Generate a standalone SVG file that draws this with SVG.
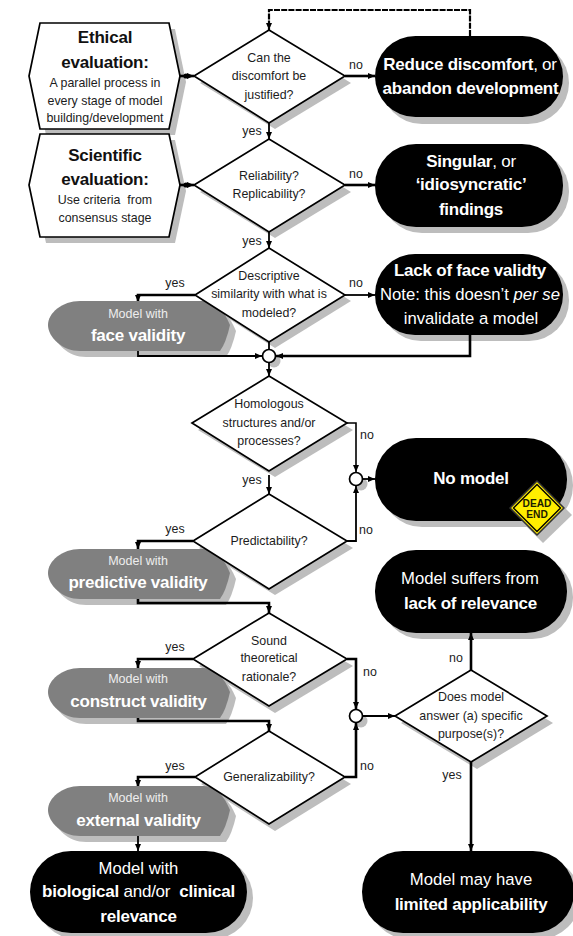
<svg xmlns="http://www.w3.org/2000/svg" width="573" height="936" viewBox="0 0 573 936">
<style>
text{font-family:"Liberation Sans",Arial,sans-serif;text-anchor:middle}
.s{font-size:12.4px;fill:#1c1c1c}
.l{font-size:12.4px;fill:#1c1c1c}
.h{font-size:17px;font-weight:bold;fill:#111;letter-spacing:-.2px}
.w{font-size:17px;font-weight:bold;fill:#fff;letter-spacing:-.24px}
.wn{font-size:16.7px;fill:#fff}
.ws{font-size:12.5px;fill:#eee}
.sh{fill:#bdbdbd}
.d{fill:#fff;stroke:#000;stroke-width:1.7;stroke-linejoin:miter}
.b{fill:#000}
.g{fill:#808080}
.c{fill:#fff;stroke:#000;stroke-width:1.7}
#connectors path{fill:none;stroke:#000;stroke-width:1.8}
#connectors path.t{stroke-width:2.6}
#connectors path.n{stroke-width:1.6}
#connectors path.da{stroke-dasharray:6 1.2;stroke-width:2.2}
</style>
<defs>
<marker id="a" markerUnits="userSpaceOnUse" markerWidth="8" markerHeight="8" refX="7" refY="4" orient="auto"><path d="M0 1L7 4L0 7z" fill="#000"/></marker>
<marker id="o" markerUnits="userSpaceOnUse" markerWidth="6" markerHeight="6" refX="3" refY="3"><circle cx="3" cy="3" r="2.6" fill="#000"/></marker>
<path id="gp" d="M32 0H156Q172 0 182 24Q178 42 172 50H32C14 50 0 36 0 24C0 12 14 0 32 0z"/>
</defs>
<rect width="573" height="936" fill="#fff"/>

<g id="shadows">
<path class="sh" d="M46 29H175L186 82L175 135H46L35 82z"/>
<path class="sh" d="M46 140H175L186 191L175 243H46L35 191z"/>
<rect class="sh" x="381" y="42" width="188" height="82" rx="41"/>
<rect class="sh" x="381" y="150" width="188" height="83" rx="41"/>
<rect class="sh" x="381" y="260" width="188" height="81" rx="40"/>
<rect class="sh" x="381" y="444" width="192" height="83" rx="41"/>
<rect class="sh" x="381" y="556" width="192" height="83" rx="41"/>
<rect class="sh" x="36" y="857" width="217" height="82" rx="41"/>
<rect class="sh" x="368" y="857" width="212" height="82" rx="41"/>
<path class="sh" d="M200 83L275 36L351 83L275 129z"/>
<path class="sh" d="M200 192L275 145L351 192L275 238z"/>
<path class="sh" d="M201 301L275 254L351 301L275 348z"/>
<path class="sh" d="M198 430L275 383L353 430L275 477z"/>
<path class="sh" d="M199 548L275 501L353 548L275 595z"/>
<path class="sh" d="M199 666L275 620L353 666L275 713z"/>
<path class="sh" d="M201 784L275 738L351 784L275 831z"/>
<path class="sh" d="M401 723L477 677L553 723L477 769z"/>
<use class="sh" href="#gp" x="54" y="307"/>
<use class="sh" href="#gp" x="54" y="555"/>
<use class="sh" href="#gp" x="54" y="674"/>
<use class="sh" href="#gp" x="54" y="792"/>
<circle class="sh" cx="274" cy="361" r="6.5"/>
<circle class="sh" cx="361" cy="484" r="6.5"/>
<circle class="sh" cx="361" cy="721" r="6.5"/>
<path class="sh" d="M543 486L572 515L543 543L515 515z"/>
</g>

<g id="connectors">
<path class="da" d="M470 36V10H269V30" marker-end="url(#a)"/>
<path class="t" d="M345 76H375" marker-end="url(#a)"/>
<path class="t" d="M180 76H186H194" marker-mid="url(#o)" marker-end="url(#a)"/>
<path d="M269 123V139" marker-end="url(#a)"/>
<path class="t" d="M345 185H375" marker-end="url(#a)"/>
<path class="t" d="M180 185H186H194" marker-mid="url(#o)" marker-end="url(#a)"/>
<path d="M269 232V248" marker-end="url(#a)"/>
<path d="M345 295H375" marker-end="url(#a)"/>
<path class="t" d="M195 295H138V302" marker-end="url(#a)"/>
<path d="M138 349V356H262" marker-end="url(#a)"/>
<path class="t" d="M470 335V356H276" marker-end="url(#a)"/>
<path d="M269 342V350"/>
<path d="M269 362V376" marker-end="url(#a)"/>
<path class="n" d="M347 423H356V472" marker-end="url(#a)"/>
<path d="M362 479H375" marker-end="url(#a)"/>
<path d="M347 541H356V486" marker-end="url(#a)"/>
<path d="M269 475V494" marker-end="url(#a)"/>
<path class="t" d="M193 541H138V549" marker-end="url(#a)"/>
<path class="t" d="M138 598V603H269V613" marker-end="url(#a)"/>
<path class="t" d="M193 659H138V668" marker-end="url(#a)"/>
<path class="t" d="M138 716V721H269V731" marker-end="url(#a)"/>
<path class="t" d="M195 777H138V787" marker-end="url(#a)"/>
<path d="M138 834V851" marker-end="url(#a)"/>
<path class="t" d="M347 659H356V709" marker-end="url(#a)"/>
<path class="t" d="M345 777H356V723" marker-end="url(#a)"/>
<path d="M362 716H395" marker-end="url(#a)"/>
<path class="t" d="M471 670V633" marker-end="url(#a)"/>
<path class="t" d="M471 762V851" marker-end="url(#a)"/>
</g>

<g id="ethical"><path class="d" d="M40 23H169L180 76L169 129H40L29 76z"/>
<text class="h" x="105" y="43">Ethical</text><text class="h" x="105" y="68">evaluation:</text>
<text class="s" x="105" y="87">A parallel process in</text><text class="s" x="105" y="105">every stage of model</text><text class="s" x="105" y="122">building/development</text></g>

<g id="scientific"><path class="d" d="M40 134H169L180 185L169 237H40L29 185z"/>
<text class="h" x="105" y="161">Scientific</text><text class="h" x="105" y="185">evaluation:</text>
<text class="s" x="105" y="204">Use criteria&#160; from</text><text class="s" x="105" y="222">consensus stage</text></g>

<g id="d1"><path class="d" d="M194 76L269 30L345 76L269 123z"/>
<text class="s" x="269" y="62">Can the</text><text class="s" x="269" y="80">discomfort be</text><text class="s" x="269" y="99">justified?</text></g>
<g id="d2"><path class="d" d="M194 185L269 139L345 185L269 232z"/>
<text class="s" x="269" y="180">Reliability?</text><text class="s" x="269" y="198">Replicability?</text></g>

<g id="p1"><rect class="b" x="375" y="36" width="188" height="81" rx="40.5"/>
<text class="w" x="470" y="70">Reduce discomfort<tspan font-weight="normal">, or</tspan></text><text class="w" x="470.500" y="94">abandon development</text></g>
<g id="p2"><rect class="b" x="375" y="144" width="188" height="83" rx="41"/>
<text class="w" x="471" y="167">Singular<tspan font-weight="normal">, or</tspan></text><text class="w" x="471" y="190">‘idiosyncratic’</text><text class="w" x="471" y="215">findings</text></g>
<g id="p3"><rect class="b" x="375" y="254" width="188" height="81" rx="40"/>
<text class="w" x="470" y="276">Lack of face validty</text><text class="wn" x="470" y="300">Note: this doesn’t <tspan font-style="italic">per se</tspan></text><text class="wn" x="471" y="324">invalidate a model</text></g>

<g id="g1"><use class="g" href="#gp" x="48" y="301"/>
<text class="ws" x="138" y="318">Model with</text><text class="w" x="138" y="341">face validity</text></g>
<g id="d3"><path class="d" d="M195 295L269 248L345 295L269 342z"/>
<text class="s" x="269" y="280">Descriptive</text><text class="s" x="269" y="298">similarity with what is</text><text class="s" x="269" y="317">modeled?</text></g>

<g id="j1"><circle class="c" cx="269" cy="356" r="6.5"/></g>

<g id="d4"><path class="d" d="M192 423L269 376L347 423L269 471z"/>
<text class="s" x="269" y="408">Homologous</text><text class="s" x="269" y="427">structures and/or</text><text class="s" x="269" y="445">processes?</text></g>
<g id="j2"><circle class="c" cx="356" cy="479" r="6.5"/></g>
<g id="p4"><rect class="b" x="375" y="438" width="192" height="83" rx="41"/>
<text class="w" x="471" y="484">No model</text></g>
<g id="sign"><path d="M537 481L564 508L537 535L510 508z" fill="#ffee00" stroke="#333" stroke-width="1.6" stroke-linejoin="round"/>
<path d="M537 484.500L560.500 508L537 531.500L513.500 508z" fill="#ffee00" stroke="#000" stroke-width="1.4" stroke-linejoin="round"/>
<text x="537" y="507" font-size="10.200" font-weight="bold" fill="#1a2000">DEAD</text><text x="537" y="518" font-size="10.200" font-weight="bold" fill="#1a2000">END</text></g>

<g id="g2"><use class="g" href="#gp" x="48" y="549"/>
<text class="ws" x="138" y="565">Model with</text><text class="w" x="138" y="588">predictive validity</text></g>
<g id="d5"><path class="d" d="M193 541L269 494L347 541L269 589z"/>
<text class="s" x="269" y="545">Predictability?</text></g>

<g id="p5"><rect class="b" x="375" y="550" width="192" height="83" rx="41"/>
<text class="wn" x="470" y="584">Model suffers from</text><text class="w" x="470.500" y="609">lack of relevance</text></g>

<g id="g3"><use class="g" href="#gp" x="48" y="668"/>
<text class="ws" x="138" y="683">Model with</text><text class="w" x="138.500" y="707">construct validity</text></g>
<g id="d6"><path class="d" d="M193 659L269 613L347 659L269 706z"/>
<text class="s" x="269" y="645">Sound</text><text class="s" x="269" y="662">theoretical</text><text class="s" x="269" y="681">rationale?</text></g>

<g id="j3"><circle class="c" cx="356" cy="716" r="6.5"/></g>
<g id="d8"><path class="d" d="M395 716L471 670L547 716L471 762z"/>
<text class="s" x="471" y="701">Does model</text><text class="s" x="471" y="720">answer (a) specific</text><text class="s" x="471" y="738">purpose(s)?</text></g>

<g id="g4"><use class="g" href="#gp" x="48" y="786"/>
<text class="ws" x="138" y="802">Model with</text><text class="w" x="138.500" y="826">external validity</text></g>
<g id="d7"><path class="d" d="M195 777L269 731L345 777L269 824z"/>
<text class="s" x="269" y="781">Generalizability?</text></g>

<g id="p6"><rect class="b" x="30" y="851" width="217" height="82" rx="41"/>
<text class="wn" x="138.500" y="874">Model with</text><text class="w" x="138.500" y="897">biological <tspan font-weight="normal">and/or</tspan>&#160; clinical</text><text class="w" x="138.500" y="922">relevance</text></g>
<g id="p7"><rect class="b" x="362" y="851" width="212" height="82" rx="41"/>
<text class="wn" x="471" y="885">Model may have</text><text class="w" x="471" y="910">limited applicability</text></g>

<g id="labels">
<text class="l" x="356" y="69">no</text><text class="l" x="252" y="135">yes</text>
<text class="l" x="356" y="178">no</text><text class="l" x="252" y="245">yes</text>
<text class="l" x="356" y="287">no</text><text class="l" x="175" y="287">yes</text>
<text class="l" x="367" y="439">no</text><text class="l" x="252" y="484">yes</text>
<text class="l" x="175" y="533">yes</text><text class="l" x="366" y="534">no</text>
<text class="l" x="175" y="651">yes</text><text class="l" x="370" y="676">no</text>
<text class="l" x="456" y="662">no</text>
<text class="l" x="175" y="770">yes</text><text class="l" x="367" y="770">no</text>
<text class="l" x="452" y="779">yes</text>
</g>
</svg>
